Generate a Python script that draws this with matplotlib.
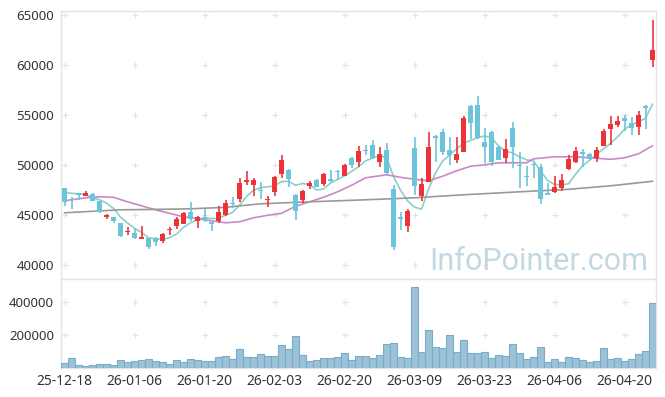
import matplotlib

matplotlib.use("Agg")
import numpy as np
import pandas as pd
from matplotlib import pyplot as plt

# daily OHLC, one entry per trading day (25-12-18 .. 26-04-24)
opens = [47700, 46750, 47200, 46950, 47150, 46450, 44850, 44800, 44200, 43350,
         43200, 42650, 42700, 42750, 42450, 43500, 43950, 44150, 45300, 44400,
         44850, 44350, 44450, 45000, 46250, 46650, 48300, 48050, 47500, 46500,
         47350, 49100, 49550, 47050, 46550, 47900, 48550, 48150, 48650, 49450,
         48950, 50750, 50350, 51550, 52050, 50350, 51550, 47650, 44800, 43950,
         51750, 46950, 48350, 52900, 53350, 51550, 50550, 51350, 55950, 56050,
         52300, 53350, 51850, 50750, 53750, 50000, 48950, 50100, 49850, 47250,
         47300, 47750, 49600, 50300, 51350, 51100, 50700, 51950, 53650, 54050,
         54750, 54200, 53800, 55950, 60550]
highs = [47750, 46850, 47250, 47450, 47200, 46450, 45150, 44850, 44250, 43800,
         43750, 43900, 42700, 42800, 43250, 43800, 44800, 45300, 46300, 44950,
         45600, 44350, 45950, 46500, 46800, 48700, 49400, 48700, 48300, 46950,
         48950, 51050, 49600, 47100, 47550, 48450, 48600, 49250, 49500, 49550,
         50150, 50850, 51950, 52000, 52500, 51800, 52250, 48050, 45350, 45600,
         52800, 48700, 53300, 53050, 53600, 52800, 52800, 54900, 56050, 56900,
         53750, 53400, 51950, 52650, 54350, 51350, 49950, 50350, 50150, 48200,
         48950, 49150, 51050, 51850, 51650, 51200, 51850, 53600, 54950, 54950,
         55050, 54850, 55450, 56050, 64550]
lows = [45900, 45650, 46500, 46900, 46400, 45250, 44650, 44250, 42800, 43000,
        42650, 42600, 41650, 41900, 42200, 43050, 43600, 44150, 44450, 43700,
        44300, 43450, 44200, 44950, 45700, 46350, 48050, 46900, 46600, 45850,
        46950, 48750, 47800, 44550, 46250, 47600, 47800, 47950, 48350, 48550,
        48900, 49750, 49850, 51050, 50650, 49800, 49050, 41550, 43500, 43350,
        47050, 46450, 48300, 50350, 51050, 50000, 50200, 51300, 52600, 52650,
        50200, 49950, 50500, 50200, 49700, 47700, 47950, 48700, 46150, 47000,
        47250, 47450, 49500, 50250, 49850, 50550, 50350, 51900, 52050, 53800,
        53400, 53050, 53050, 53600, 59850]
closes = [46300, 46700, 47050, 47250, 46450, 45300, 45000, 44450, 42900, 43450,
          42750, 42850, 41850, 42350, 43150, 43650, 44600, 45200, 44650, 44800,
          44550, 44150, 45350, 46200, 46150, 48200, 48500, 48500, 47400, 46600,
          48800, 50550, 48650, 45450, 47450, 48250, 47850, 49100, 48450, 49300,
          50000, 50050, 51450, 51400, 50750, 51100, 49250, 41850, 44600, 45450,
          47950, 48150, 51850, 52750, 51350, 51000, 51150, 54750, 54200, 52700,
          51850, 50350, 50550, 51650, 51800, 49900, 48800, 50050, 46650, 47050,
          47850, 48550, 50650, 51450, 51150, 50650, 51550, 53450, 54150, 54450,
          54450, 53750, 55050, 55750, 61550]
volumes = [28000, 58000, 16000, 10000, 16000, 22000, 22000, 16000, 46000, 34000,
           40000, 46000, 52000, 40000, 34000, 22000, 46000, 34000, 52000, 46000,
           40000, 40000, 64000, 70000, 52000, 113000, 64000, 64000, 83000, 70000,
           70000, 137000, 113000, 192000, 77000, 40000, 46000, 58000, 58000, 64000,
           89000, 46000, 70000, 70000, 58000, 77000, 145000, 151000, 64000, 58000,
           489000, 95000, 228000, 125000, 119000, 198000, 95000, 168000, 89000, 89000,
           95000, 58000, 77000, 70000, 143000, 89000, 52000, 64000, 125000, 34000,
           52000, 34000, 64000, 58000, 46000, 34000, 40000, 119000, 52000, 58000,
           40000, 52000, 83000, 101000, 392000]

# 5-day MA: first four values (they need earlier closes)
ma5_head = [47250, 47200, 47150, 47100]
# 20-day and long MA at a few days
ma20_days = [0, 3, 5, 7, 9, 11, 13, 15, 17, 19, 21, 23, 25, 27, 29, 31, 33, 35, 37,
             39, 41, 43, 45, 46, 48, 50, 52, 54, 56, 58, 60, 62, 64, 66, 67, 70,
             73, 76, 78, 80, 82, 84]
ma20_vals = [46450, 46750, 46850, 46800, 46350, 45950, 45550, 45200, 44850, 44650,
             44450, 44250, 44350, 44750, 45000, 45200, 45900, 46350, 46800, 47350,
             48000, 48750, 48950, 49050, 48800, 48600, 48450, 48900, 49450, 49900,
             50050, 50250, 50250, 50250, 50650, 50850, 50850, 50700, 50600, 50750,
             51150, 51950]
ma_long_days = [0, 8, 14, 18, 23, 28, 35, 43, 50, 57, 65, 72, 78, 84]
ma_long_vals = [45250, 45550, 45600, 45650, 45800, 46150, 46350, 46550, 46750,
                47050, 47350, 47600, 47950, 48400]

tick_days = [0, 10, 20, 30, 40, 50, 60, 70, 80]
tick_labels = ["25-12-18", "26-01-06", "26-01-20", "26-02-03", "26-02-20",
               "26-03-09", "26-03-23", "26-04-06", "26-04-20"]
price_ticks = [40000, 45000, 50000, 55000, 60000, 65000]
volume_ticks = [200000, 400000]

UP = "#ee3338"
DOWN = "#6cc4da"
TEXT = "#333333"
FRAME = "#e4e4e4"
CROSS = "#e2e2e2"

df = pd.DataFrame({"open": opens, "high": highs, "low": lows, "close": closes,
                   "volume": volumes})
ma5 = df["close"].rolling(5).mean().to_numpy()
ma5[:4] = ma5_head
x = np.arange(len(df))

fig = plt.figure(figsize=(6.65, 3.97), dpi=100, facecolor="white")
ax = fig.add_axes([61 / 665, 1 - 279 / 397, 595 / 665, 268 / 397])
axv = fig.add_axes([61 / 665, 1 - 368 / 397, 595 / 665, 89 / 397])

ax.plot(x, ma5, color="#8ccfc4", linewidth=1.2, zorder=2)
ax.plot(ma20_days, ma20_vals, color="#cc88c6", linewidth=1.2, zorder=2)
ax.plot(ma_long_days, ma_long_vals, color="#999999", linewidth=1.2, zorder=2)

rising = df["close"] >= df["open"]
colors = np.where(rising, UP, DOWN)
ax.vlines(x, df["low"], df["high"], colors=colors, linewidth=1.2, zorder=3)
body_low = np.minimum(df["open"], df["close"])
body_h = np.maximum(np.abs(df["close"] - df["open"]), 60)
ax.bar(x, body_h, bottom=body_low, width=0.72, color=colors, linewidth=0, zorder=4)

axv.bar(x, df["volume"], width=1.0, color="#9bc2d7", edgecolor="#7aabc9",
        linewidth=0.8, zorder=3)

for a in (ax, axv):
    a.set_xlim(-0.5, 84.5)
    for s in a.spines.values():
        s.set_color(FRAME)
        s.set_linewidth(1.0)
    a.tick_params(length=0, colors=TEXT, labelsize=9.5, pad=5)

ax.set_ylim(38630, 65430)
ax.set_yticks(price_ticks)
ax.set_xticks([])
gx, gy = np.meshgrid(tick_days, price_ticks)
ax.scatter(gx.ravel(), gy.ravel(), marker="+", s=16, color=CROSS, linewidths=0.8, zorder=1)

axv.set_ylim(0, 539000)
axv.set_yticks(volume_ticks)
axv.set_xticks(tick_days)
axv.set_xticklabels(tick_labels)
axv.tick_params(axis="x", labelsize=10, pad=4)
gx, gy = np.meshgrid(tick_days, volume_ticks)
axv.scatter(gx.ravel(), gy.ravel(), marker="+", s=16, color=CROSS, linewidths=0.8, zorder=1)

for a in (ax, axv):
    for lab in a.get_yticklabels() + a.get_xticklabels():
        lab.set_fontfamily("Noto Sans")

fig.text(648 / 665, 1 - 270 / 397, "InfoPointer.com", ha="right", va="baseline",
         fontsize=22, family="Roboto", color="#c3d8e3", zorder=0)

fig.savefig("out.png", dpi=100, facecolor="white")
